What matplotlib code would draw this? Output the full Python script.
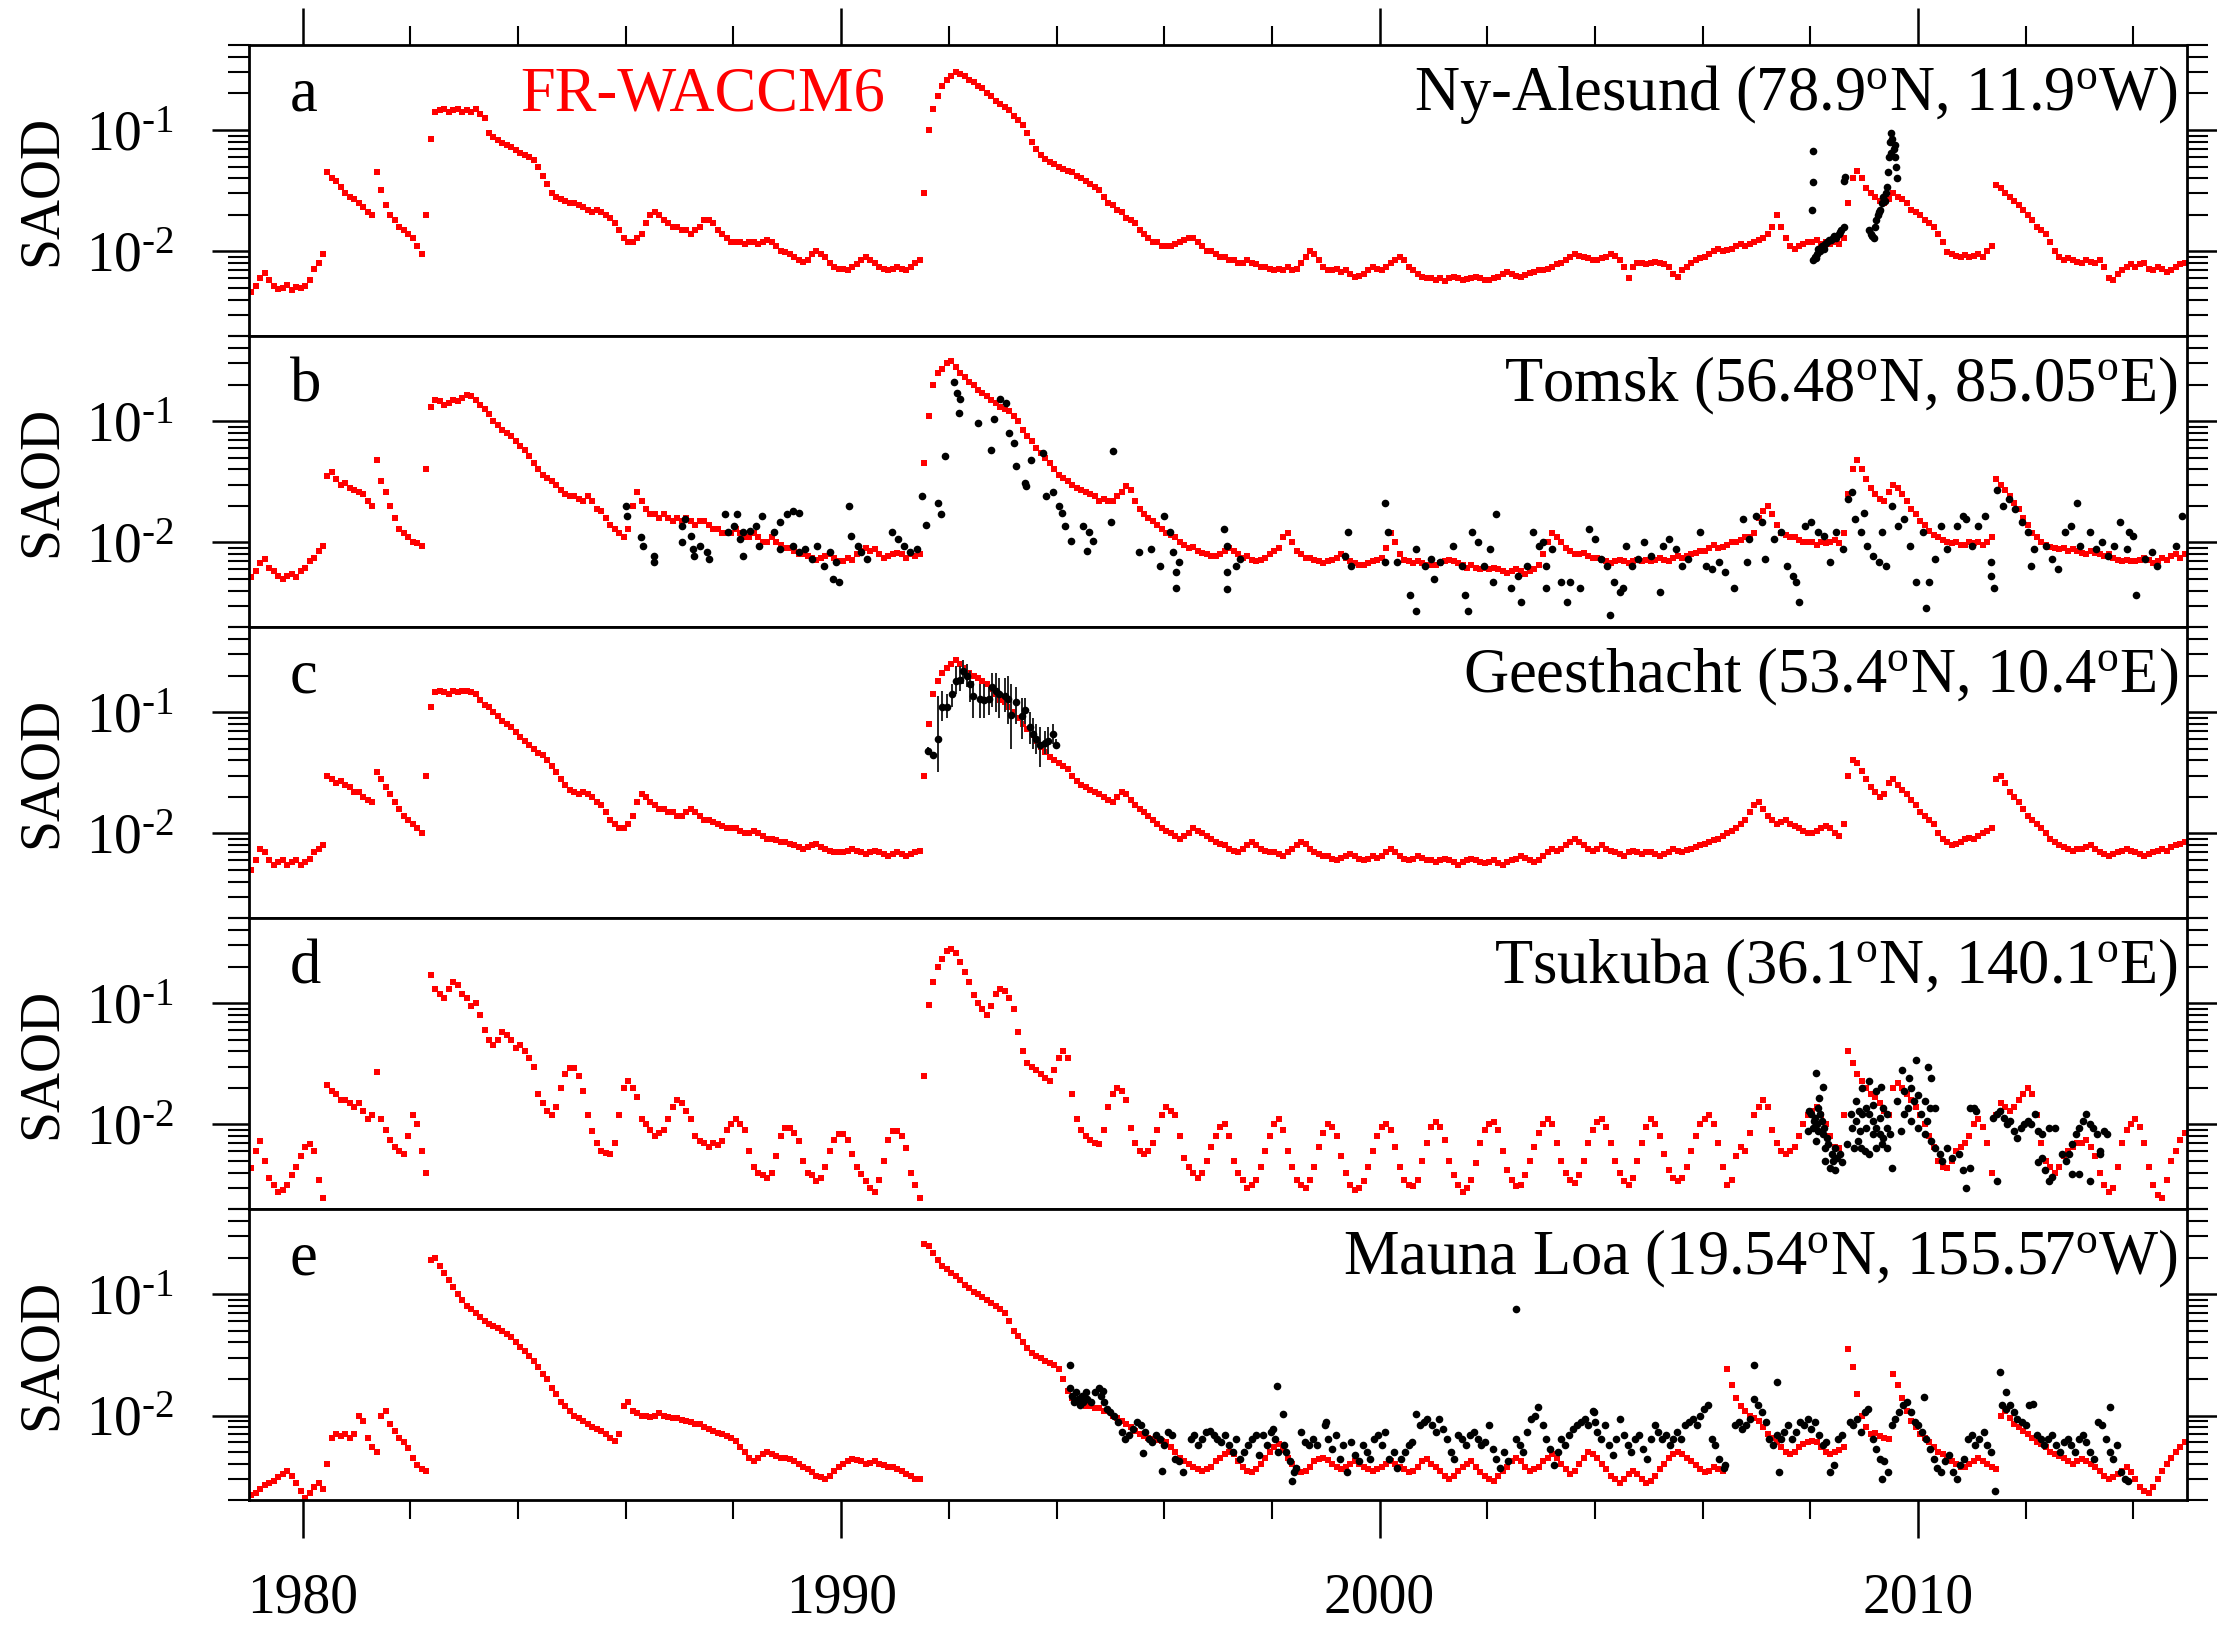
import numpy as np
import matplotlib
matplotlib.use("Agg")
import matplotlib.pyplot as plt
from matplotlib.ticker import FixedLocator, FixedFormatter, LogLocator, NullFormatter, MultipleLocator

plt.rcParams['font.family'] = ['Liberation Serif', 'DejaVu Serif']
plt.rcParams['mathtext.fontset'] = 'custom'
plt.rcParams['mathtext.rm'] = 'Liberation Serif'
plt.rcParams['mathtext.it'] = 'Liberation Serif:italic'
plt.rcParams['mathtext.bf'] = 'Liberation Serif:bold'

# ---------------- data ----------------
START_YEAR = 1979          # model series: monthly values from Jan 1979 to Dec 2014
SCALE = 1e-3               # all SAOD values below are in units of 1e-3

model_a = [
    4.6, 5.2, 6.0, 6.6, 5.8, 5.2, 4.9, 5.0, 5.3, 4.8, 5.1, 5.0,
    5.2, 5.8, 7.2, 8.0, 9.5, 45, 40, 38, 34, 30, 28, 27,
    25, 23, 21, 20, 45, 32, 24, 20, 18, 16, 15, 14,
    13, 11, 9.5, 20, 85, 140, 145, 150, 140, 145, 150, 140,
    145, 140, 150, 135, 125, 95, 88, 82, 78, 75, 72, 68,
    65, 62, 60, 57, 50, 42, 36, 30, 28, 27, 26, 25,
    25, 24, 23, 22, 21, 22, 21, 20, 19, 17, 15, 13,
    12, 12, 13, 14, 17, 20, 21, 20, 18, 17, 16, 16,
    15, 15, 14, 15, 16, 18, 18, 17, 15, 14, 13, 12,
    12, 12, 11.5, 12, 12, 11.5, 12, 12.5, 12, 11, 10, 9.8,
    9.5, 9, 8.5, 8.2, 8.5, 9.5, 10, 9.5, 9, 8, 7.5, 7.2,
    7.2, 7, 7.5, 7.8, 8.5, 9, 8.5, 8, 7.5, 7.2, 7, 7.2,
    7.5, 7.2, 7, 7.5, 8, 8.5, 30, 100, 150, 190, 230, 260,
    280, 300, 290, 280, 260, 250, 230, 220, 200, 190, 175, 165,
    155, 145, 130, 120, 110, 95, 80, 70, 62, 58, 55, 52,
    50, 48, 46, 45, 42, 40, 38, 36, 34, 32, 28, 25,
    24, 22, 21, 19, 18, 17, 15, 14, 13, 12, 12, 11,
    11, 11, 11.5, 12, 12.5, 13, 13, 12, 11, 10, 10, 9.5,
    9, 9, 8.5, 8.5, 8, 8, 8.5, 8, 7.8, 7.5, 7.5, 7.2,
    7, 7.2, 7, 7.5, 7, 7.2, 8, 9, 10, 9.5, 8.5, 7.5,
    7, 7, 7.2, 6.8, 7, 6.5, 6.2, 6.3, 6.5, 7, 7.5, 7.2,
    7, 7.5, 8, 8.5, 9, 8.5, 7.5, 7, 6.5, 6.2, 6, 6,
    5.8, 6, 5.7, 6, 6.2, 6, 5.8, 5.9, 6, 6.2, 6, 5.8,
    5.8, 6, 6.2, 6.5, 6.8, 6.5, 6.3, 6.2, 6.4, 6.6, 6.8, 7,
    7, 7.2, 7.5, 7.8, 8, 8.5, 9, 9.5, 9.2, 9, 8.8, 8.5,
    8.5, 8.8, 9, 9.5, 9.2, 8.5, 7.5, 6, 7.5, 8, 8, 7.8,
    8, 8.2, 8, 7.8, 7.5, 6.5, 6.2, 7, 7.5, 8, 8.5, 8.8,
    9, 9.5, 10, 10.5, 10, 10.2, 10.5, 11, 11.5, 11, 11.5, 12,
    12.5, 13, 14, 16, 20, 16, 13, 11, 10.5, 11, 11.5, 12,
    12, 12.5, 11.5, 12, 11.5, 12, 11.5, 13, 25, 40, 46, 40,
    33, 30, 28, 26, 25, 27, 30, 28, 27, 25, 22, 21,
    20, 18, 17, 16, 14, 12, 9.8, 9.5, 9.2, 9, 9.3, 9,
    9.2, 9.5, 9, 10, 11, 35, 33, 30, 28, 26, 24, 22,
    20, 18, 16, 15, 14, 12, 10, 9, 8.5, 8.8, 8.5, 8.2,
    8, 8.5, 8.2, 8, 8.5, 7.5, 6, 5.8, 6.5, 7, 7.5, 7.8,
    7.5, 7.8, 8, 7.2, 7, 7.5, 7.2, 6.8, 7, 7.5, 7.8, 8,
]

model_b = [
    5.2, 5.8, 6.8, 7.3, 6.2, 5.8, 5.3, 5.0, 5.3, 5.5, 5.2, 5.8,
    6.2, 7.0, 7.5, 8.5, 9.3, 35, 38, 33, 30, 31, 28, 27,
    26, 25, 22, 20, 48, 32, 26, 20, 16, 13, 12, 11,
    10, 9.8, 9.3, 40, 130, 150, 145, 135, 140, 150, 145, 155,
    165, 160, 150, 135, 125, 115, 100, 92, 85, 80, 75, 68,
    62, 58, 52, 45, 40, 36, 34, 32, 30, 27, 25, 24,
    24, 23, 22, 24, 22, 19, 18, 16, 14, 13, 12, 11,
    13, 20, 26, 22, 19, 17, 17, 16, 17, 16, 15, 16,
    15, 16, 15, 14, 15, 15, 14, 13, 13, 12, 12, 12,
    13, 12, 11, 11, 12, 11, 10, 10, 11, 10, 9.5, 9,
    9, 8.5, 8, 8, 7.8, 7.5, 7.2, 7.5, 7.8, 8, 7.5, 7,
    7, 7.5, 7.2, 8, 8.5, 9, 8.5, 8.8, 8, 7.5, 7.8, 8,
    8.2, 8, 7.5, 8, 7.8, 8, 45, 110, 200, 250, 270, 300,
    310, 280, 250, 230, 210, 200, 180, 170, 160, 150, 140, 130,
    125, 120, 110, 100, 85, 75, 68, 60, 55, 50, 45, 40,
    36, 34, 32, 30, 28, 27, 26, 25, 24, 22, 23, 22,
    22, 24, 26, 29, 27, 22, 19, 17, 16, 15, 14, 13,
    12, 11.5, 11, 10, 9.5, 9, 9.2, 8.5, 8.2, 8, 7.8, 7.8,
    8, 8.5, 9, 8.5, 8, 7.5, 7.8, 7.2, 7, 7.2, 7.5, 8,
    8.5, 9, 11, 12, 10, 8.5, 8, 7.5, 7.5, 7.2, 7, 6.8,
    7, 7.2, 7.5, 8, 7.5, 7, 6.8, 6.5, 6.5, 6.8, 7, 7.2,
    7.5, 9, 12, 10, 8, 7.2, 7, 6.8, 7, 6.8, 6.5, 6.5,
    6.5, 6.8, 7, 7.2, 7, 6.8, 6.5, 6.2, 6.5, 6.2, 6, 6.2,
    6, 6.2, 6, 5.8, 5.6, 5.8, 6, 5.8, 5.5, 5.8, 6, 6.5,
    8, 10, 12, 11, 10, 9, 8.5, 8, 8, 8.2, 7.8, 7.5,
    7.5, 7.2, 7, 6.8, 7, 7.2, 7, 6.8, 7, 7.2, 7, 7.2,
    7, 7.2, 7.5, 7.2, 7, 7.5, 7.8, 7.5, 7.8, 8, 8.2, 8.5,
    8.5, 9, 9.5, 9, 9.2, 9.5, 10, 10, 10.5, 11, 11, 12,
    16, 18, 20, 17, 14, 12, 11.5, 11, 11, 10.5, 10, 10,
    10, 9.5, 10, 9.8, 10, 10.5, 9.8, 12, 25, 40, 48, 40,
    33, 28, 25, 23, 22, 26, 30, 28, 25, 22, 19, 17,
    15, 14, 12.5, 11.5, 11, 10.5, 10, 9.8, 10, 9.5, 9.5, 10,
    9.8, 10, 9.5, 10, 11, 33, 30, 27, 24, 21, 19, 16,
    14, 12, 11, 10, 9.5, 9.2, 9, 8.8, 9, 8.5, 8.8, 8.5,
    8.2, 8, 8.5, 8.2, 8, 7.8, 8, 7.5, 7.2, 7, 7.2, 7,
    7, 7.2, 7.5, 7.2, 6.8, 7, 7.5, 7.2, 7.8, 8, 7.5, 8,
]

model_c = [
    5, 6, 7.5, 7, 6, 5.5, 5.8, 6, 5.5, 5.8, 6, 5.5,
    5.8, 6.2, 7, 7.5, 8, 30, 28, 26, 27, 25, 24, 22,
    22, 20, 19, 18, 32, 28, 24, 21, 18, 16, 14, 13,
    12, 11, 10, 30, 110, 145, 150, 145, 140, 150, 145, 150,
    150, 145, 140, 125, 115, 110, 100, 92, 85, 80, 75, 68,
    62, 58, 54, 50, 46, 44, 40, 36, 32, 28, 25, 23,
    22, 21, 22, 21, 20, 18, 17, 15, 13, 12, 11, 11,
    12, 14, 18, 21, 20, 18, 17, 16, 16, 15, 15, 14,
    14, 15, 16, 15, 14, 13, 13, 12.5, 12, 11.5, 11, 11,
    11, 10.5, 10, 10, 10.5, 10, 9.5, 9, 9, 8.8, 8.5, 8.5,
    8.2, 8, 7.8, 7.5, 7.8, 8, 8.2, 7.8, 7.5, 7.2, 7, 7,
    7, 7.2, 7.5, 7.2, 7, 6.8, 7, 7.2, 7, 6.8, 6.5, 6.8,
    7, 6.8, 6.5, 6.8, 7, 7.2, 30, 80, 140, 180, 210, 230,
    250, 270, 250, 230, 210, 200, 190, 180, 170, 155, 140, 125,
    120, 110, 100, 90, 80, 72, 65, 58, 52, 47, 43, 40,
    38, 36, 34, 30, 27, 25, 24, 23, 22, 21, 20, 19,
    18, 20, 22, 21, 19, 17, 16, 15, 14, 13, 12, 11,
    10.5, 10, 9.5, 9, 9.5, 10, 11, 10.5, 10, 9.5, 9, 8.5,
    8.2, 8, 7.5, 7.2, 7, 7.5, 8, 8.5, 8, 7.5, 7.2, 7,
    7, 6.8, 6.5, 7, 7.5, 8, 8.5, 8.2, 7.5, 7, 6.8, 6.5,
    6.5, 6.2, 6, 6.3, 6.5, 6.8, 6.5, 6.2, 6, 6.2, 6.5, 6.3,
    6.5, 7, 7.5, 7, 6.5, 6.2, 6, 6.2, 6.5, 6.3, 6, 6,
    5.8, 6, 6.2, 6, 5.8, 5.5, 5.8, 6, 6.2, 6, 5.8, 5.7,
    5.8, 6, 5.7, 5.5, 5.8, 6, 6.2, 6.5, 6.3, 6, 5.8, 6,
    6.5, 7, 7.5, 7.2, 7.5, 8, 8.5, 9, 8.5, 8, 7.5, 7.2,
    7.5, 8, 7.5, 7.2, 7, 6.8, 6.5, 7, 7.2, 7, 6.8, 7,
    7, 6.8, 6.5, 6.8, 7, 7.5, 7.2, 7, 7.3, 7.5, 7.8, 8,
    8.2, 8.5, 8.8, 9, 9.5, 10, 10.5, 11, 12, 13, 15, 17,
    18, 16, 14, 13, 12, 12.5, 13, 12, 11.5, 11, 10.5, 10,
    10, 10.5, 11, 11.5, 11, 10, 9.5, 12, 30, 40, 38, 33,
    28, 24, 22, 20, 21, 26, 28, 25, 23, 21, 19, 17,
    15, 14, 13, 12, 10, 9, 8.5, 8, 8.2, 8.5, 9, 9.2,
    9, 9.5, 10, 10.5, 11, 28, 30, 26, 22, 20, 18, 16,
    14, 13, 12, 11, 10, 9, 8.5, 8, 7.8, 7.5, 7.2, 7.5,
    7.5, 7.8, 8, 7.5, 7, 6.8, 6.5, 6.8, 7, 7.2, 7.5, 7.2,
    7, 6.8, 6.5, 6.8, 7, 7.2, 7.5, 7.2, 7.8, 8, 8.2, 8.5,
]

model_d = [
    4.4, 6, 7.3, 5, 3.6, 3.2, 2.8, 2.9, 3.2, 3.8, 4.5, 5.5,
    6.5, 6.9, 6, 3.5, 2.5, 21, 19, 18, 16, 16, 15, 14,
    15, 13, 11, 12, 27, 11, 9, 7.5, 6.5, 6, 5.7, 8,
    12, 10, 6, 4, 170, 130, 120, 110, 130, 150, 140, 120,
    110, 95, 100, 80, 60, 50, 45, 50, 58, 55, 50, 43,
    45, 40, 35, 30, 18, 15, 13, 12, 14, 20, 26, 29,
    29, 25, 19, 12, 8.8, 7, 6, 5.8, 5.7, 7, 12, 20,
    23, 20, 17, 11, 10, 9, 8, 8.5, 9, 11, 14, 16,
    15, 13, 11, 8, 7.3, 7, 6.5, 7, 6.8, 7.3, 9, 10,
    11, 10, 9, 6, 4.5, 4, 3.8, 3.6, 4, 5.5, 8, 9.4,
    9.4, 8.5, 7.3, 5, 4, 3.8, 3.4, 3.6, 4.5, 6, 7.5, 8.3,
    8.3, 7.5, 5.7, 4.5, 3.9, 3.4, 3, 2.8, 3.5, 5, 7.5, 8.8,
    8.8, 8, 6.4, 4, 3.2, 2.5, 25, 97, 150, 200, 230, 270,
    280, 260, 220, 180, 150, 117, 100, 90, 80, 95, 120, 130,
    125, 110, 90, 58, 40, 32, 30, 28, 26, 24, 23, 28,
    35, 40, 35, 18, 11, 9, 8, 7.5, 7, 6.9, 9, 14,
    18, 20, 19, 16, 9.4, 7, 6, 5.7, 6, 7, 9, 12,
    14, 13, 12, 8, 5.3, 4.5, 4, 3.6, 4, 5, 6.5, 8,
    9.5, 10, 8, 5, 4, 3.5, 3, 3.2, 3.5, 4.5, 6, 8,
    10, 11, 9, 6, 4.5, 3.5, 3.2, 3, 3.5, 4.5, 6.5, 8.5,
    10, 9.5, 8, 5.5, 4, 3.2, 2.9, 3, 3.4, 4.5, 6, 8,
    9.5, 10, 9, 6.5, 4.5, 3.5, 3.2, 3.1, 3.5, 5, 7, 9.5,
    10.5, 9.5, 7.5, 5, 3.8, 3.2, 2.8, 3, 3.5, 4.8, 7, 9,
    10, 10.5, 9, 6, 4.2, 3.5, 3.1, 3.2, 3.8, 5, 6.5, 8.5,
    10, 11, 10, 7, 5, 4, 3.5, 3.3, 3.8, 5, 7, 9,
    10.5, 11, 9.5, 7, 5, 4, 3.4, 3.2, 3.6, 5, 7, 9.5,
    11, 10, 8, 5.7, 4.2, 3.6, 3.4, 3.6, 4.5, 6, 8, 10,
    11, 12, 10, 7, 4.5, 3.2, 3.5, 5.5, 6.5, 6, 8.5, 12,
    14, 16, 14, 9, 7, 6, 5.7, 6, 6.5, 8, 10, 12,
    13, 14, 12, 10, 8, 6.5, 6.4, 12, 40, 32, 26, 23,
    20, 18, 17, 15, 13, 12, 20, 22, 20, 18, 16, 14,
    12, 10, 8, 6.5, 5, 4.5, 4.4, 5, 6, 6.5, 7, 8,
    10, 11, 9.5, 7, 4, 12, 15, 14, 13, 14, 16, 18,
    20, 18, 12, 7, 5, 4.5, 4, 4.5, 5.5, 6, 6.5, 7,
    7, 7.5, 6.5, 5.5, 4, 3.2, 2.8, 3, 4.5, 7, 9, 10,
    11, 9.5, 7, 4.5, 3.2, 2.6, 2.5, 3.5, 5, 6, 7.5, 8.5,
]

model_e = [
    2.2, 2.3, 2.5, 2.7, 2.8, 2.9, 3.1, 3.3, 3.5, 3.2, 2.8, 2.4,
    2.1, 2.3, 2.6, 2.8, 2.5, 4, 6.5, 7, 6.8, 7, 6.5, 7,
    10, 9, 6.5, 5.5, 5, 10, 11, 8.5, 7.5, 6.5, 6, 5.4,
    4.5, 3.9, 3.6, 3.5, 190, 200, 170, 150, 130, 115, 100, 90,
    80, 75, 70, 65, 60, 57, 55, 53, 50, 47, 44, 40,
    37, 34, 31, 28, 25, 22, 20, 17, 15, 13, 12, 11,
    10, 9.5, 9, 8.5, 8, 7.8, 7.5, 7, 6.5, 6.2, 7, 12,
    13, 11, 10.5, 10, 10, 9.8, 10, 10.5, 10, 9.8, 9.5, 9.5,
    9.2, 9, 8.8, 8.5, 8.5, 8, 7.8, 7.5, 7.2, 7, 6.8, 6.5,
    6.2, 5.5, 5, 4.5, 4.2, 4.5, 4.8, 5, 4.8, 4.6, 4.5, 4.5,
    4.4, 4.2, 4, 3.8, 3.6, 3.4, 3.2, 3.1, 3, 3.2, 3.5, 3.8,
    4, 4.2, 4.4, 4.3, 4.2, 4, 4.1, 4.2, 4, 3.9, 3.8, 3.8,
    3.6, 3.5, 3.3, 3.2, 3, 3, 260, 250, 220, 190, 170, 160,
    150, 140, 130, 120, 112, 105, 100, 95, 90, 85, 80, 75,
    70, 60, 50, 45, 40, 36, 33, 31, 30, 28, 27, 26,
    24, 20, 16, 14, 13, 12.5, 12, 12, 11.5, 11.5, 11, 11,
    10, 9.5, 9, 8.5, 8, 7.5, 7, 6.8, 6.5, 6.4, 6.3, 6.2,
    6, 5.5, 5, 4.5, 4.2, 4, 3.8, 3.6, 3.5, 3.6, 3.8, 4.2,
    4.5, 4.8, 5, 4.8, 4.2, 3.8, 3.5, 3.4, 3.6, 4, 4.5, 5,
    5.5, 5.8, 5.2, 4.5, 4, 3.6, 3.4, 3.5, 3.8, 4.2, 4.4, 4.5,
    4.3, 4, 3.8, 3.6, 3.8, 4, 4.2, 4, 3.8, 3.6, 3.5, 3.6,
    3.8, 4, 4.2, 4, 3.8, 3.6, 3.4, 3.5, 3.8, 4.2, 4.4, 4,
    3.8, 3.5, 3.2, 3, 3.2, 3.5, 3.8, 4, 4.2, 3.8, 3.4, 3.2,
    3, 2.9, 3.2, 3.5, 3.8, 4.2, 4.5, 4.2, 3.8, 3.5, 3.6, 3.8,
    4.2, 4.5, 4.8, 4.5, 4, 3.6, 3.3, 3.5, 4, 4.5, 5, 4.8,
    4.5, 4, 3.6, 3.2, 3, 2.8, 3, 3.3, 3.5, 3.3, 3, 2.8,
    2.9, 3.2, 3.6, 4, 4.5, 4.8, 5, 4.8, 4.5, 4.2, 3.9, 3.6,
    3.4, 3.5, 3.8, 3.6, 3.5, 24, 18, 14, 12, 11, 10, 9.5,
    9, 8, 7, 6.5, 6, 5.5, 5, 4.8, 5, 5.5, 5.8, 6,
    6.2, 6, 5.5, 5, 4.8, 5, 5.2, 5.5, 35, 25, 15, 10,
    8, 7, 7.2, 6.8, 6.5, 6.4, 22, 18, 14, 11, 9, 8,
    7, 6.5, 6, 5.5, 5, 4.8, 4.5, 4.2, 4, 3.8, 3.8, 4,
    4.2, 4.5, 4.2, 4, 3.8, 3.6, 10, 11, 9.5, 8.5, 8, 7.5,
    7, 6.5, 6, 5.8, 5.5, 5, 4.8, 4.6, 4.5, 4.2, 4, 4.2,
    4.4, 4.2, 4, 3.8, 3.5, 3.2, 3, 3.1, 3.3, 3.5, 3.8, 3.4,
    3, 2.6, 2.4, 2.3, 2.6, 3, 3.5, 4, 4.5, 5, 5.5, 6,
]

# observations (year, SAOD in 1e-3)
obs_a = [
    (2008.05, 67), (2008.05, 37), (2008.04, 22), (2008.05, 8.5), (2008.08, 9),
    (2008.10, 8.8), (2008.12, 9.5), (2008.15, 10.5), (2008.18, 10), (2008.22, 11),
    (2008.25, 10.5), (2008.27, 11.5), (2008.32, 12), (2008.35, 12.5), (2008.38, 12.5),
    (2008.43, 13), (2008.45, 13.5), (2008.48, 13), (2008.53, 14), (2008.55, 14.5),
    (2008.58, 15), (2008.62, 16), (2008.62, 38), (2008.64, 41),
    (2009.10, 15), (2009.13, 14), (2009.15, 13.5), (2009.18, 13), (2009.20, 16),
    (2009.22, 18), (2009.25, 20), (2009.28, 21), (2009.30, 22), (2009.33, 25),
    (2009.36, 28), (2009.38, 26), (2009.40, 30), (2009.42, 34), (2009.45, 45),
    (2009.47, 60), (2009.48, 80), (2009.50, 95), (2009.52, 85), (2009.55, 70),
    (2009.57, 60), (2009.60, 50), (2009.62, 40), (2009.58, 75), (2009.50, 65),
]

obs_b = [
    (1986.00, 20), (1986.03, 16.5), (1986.29, 11), (1986.32, 9.4), (1986.52, 7.8),
    (1986.52, 6.9), (1987.04, 13.7), (1987.04, 10), (1987.09, 15.5), (1987.21, 11.3),
    (1987.24, 8.8), (1987.27, 7.8), (1987.38, 9.4), (1987.50, 8.3), (1987.55, 7.3),
    (1987.84, 17), (1987.90, 12.1), (1988.01, 13.7), (1988.07, 17), (1988.13, 10.6),
    (1988.18, 12.1), (1988.18, 7.8), (1988.30, 12.5), (1988.41, 13.7), (1988.47, 9.4),
    (1988.53, 16.5), (1988.76, 12.1), (1988.87, 14.6), (1988.87, 8.8), (1988.99, 17),
    (1989.10, 18), (1989.10, 9.4), (1989.22, 17.6), (1989.22, 8.3), (1989.33, 8.8),
    (1989.45, 7.3), (1989.56, 9.4), (1989.68, 6.4), (1989.79, 8.3), (1989.85, 5.0),
    (1989.91, 6.9), (1989.96, 4.7), (1990.14, 20), (1990.19, 11.3), (1990.31, 9.4),
    (1990.37, 8.3), (1990.48, 7.3), (1990.94, 12.1), (1991.06, 10.6), (1991.17, 9.4),
    (1991.28, 8.3), (1991.40, 8.8), (1991.51, 24), (1991.57, 14), (1991.80, 21),
    (1991.86, 17), (1991.92, 52), (1992.09, 209), (1992.15, 171), (1992.20, 151),
    (1992.18, 117), (1992.55, 97), (1992.78, 58), (1992.83, 103), (1992.95, 151),
    (1993.06, 142), (1993.12, 80), (1993.21, 66), (1993.24, 43), (1993.41, 31),
    (1993.44, 29), (1993.52, 48), (1993.75, 55), (1993.81, 24), (1993.93, 26),
    (1994.04, 20), (1994.10, 17.6), (1994.16, 13.7), (1994.27, 10.3), (1994.50, 13.7),
    (1994.56, 8.5), (1994.61, 12.1), (1994.67, 10.3), (1995.02, 14.6), (1995.05, 57),
    (1995.53, 8.3), (1995.76, 8.8), (1995.93, 6.4), (1995.99, 16.5), (1996.11, 12.1),
    (1996.16, 8.3), (1996.22, 5.7), (1996.22, 4.2), (1996.28, 6.9),
    (1997.11, 12.9), (1997.17, 9.4), (1997.17, 5.7), (1997.17, 4.1), (1997.34, 6.4),
    (1997.40, 7.3), (1999.35, 7.8), (1999.41, 12.1), (1999.47, 6.4), (2000.10, 21),
    (2000.16, 12.1), (2000.10, 6.9), (2000.33, 6.9), (2000.56, 3.7), (2000.67, 2.7),
    (2000.67, 8.8), (2000.85, 6.4), (2000.96, 7.3), (2001.02, 5.0), (2001.13, 6.9),
    (2001.36, 9.4), (2001.53, 6.4), (2001.59, 3.7), (2001.65, 2.7), (2001.71, 12.1),
    (2001.82, 10), (2001.94, 6.4), (2002.05, 8.8), (2002.11, 4.7), (2002.17, 17),
    (2002.45, 4.2), (2002.57, 5.3), (2002.63, 3.2), (2002.74, 6.4), (2002.86, 12.1),
    (2002.97, 9.4), (2003.03, 10), (2003.09, 6.4), (2003.09, 4.2), (2003.20, 8.8),
    (2003.37, 4.7), (2003.49, 3.2), (2003.54, 4.7), (2003.72, 4.2), (2003.89, 12.9),
    (2004.00, 10.6), (2004.12, 7.3), (2004.23, 6.4), (2004.29, 2.5), (2004.35, 4.7),
    (2004.46, 3.9), (2004.52, 4.2), (2004.58, 9.4), (2004.69, 6.4), (2004.81, 7.3),
    (2004.92, 10), (2005.04, 7.8), (2005.21, 3.9), (2005.27, 9.4), (2005.38, 10.6),
    (2005.50, 8.8), (2005.61, 6.4), (2005.73, 7.3), (2005.96, 12.1), (2006.07, 6.4),
    (2006.18, 6.0), (2006.30, 6.9), (2006.41, 5.7), (2006.59, 4.2), (2006.76, 15.5),
    (2006.82, 6.9), (2006.87, 10.6), (2006.99, 16.5), (2007.10, 14.6), (2007.16, 7.3),
    (2007.33, 10.6), (2007.45, 12.1), (2007.56, 6.4), (2007.68, 5.3), (2007.73, 4.7),
    (2007.79, 3.2), (2007.91, 13.7), (2008.02, 14.6), (2008.14, 12.1), (2008.25, 11.3),
    (2008.37, 6.9), (2008.48, 12.1), (2008.60, 8.8), (2008.71, 23), (2008.77, 26),
    (2008.83, 15.5), (2008.94, 12.1), (2009.00, 17.6), (2009.06, 9.4), (2009.17, 7.8),
    (2009.28, 6.9), (2009.34, 12.1), (2009.40, 6.4), (2009.51, 20), (2009.63, 13.7),
    (2009.74, 15.5), (2009.86, 9.4), (2009.97, 4.7), (2010.09, 12.1), (2010.20, 4.7),
    (2010.15, 2.9), (2010.32, 7.3), (2010.43, 13.7), (2010.55, 8.8), (2010.72, 13.7),
    (2010.83, 16.5), (2010.89, 15.5), (2011.01, 9.4), (2011.12, 13.7), (2011.24, 16.5),
    (2011.35, 5.3), (2011.41, 4.2), (2011.35, 6.9), (2011.47, 27), (2011.58, 20),
    (2011.70, 23), (2011.81, 19), (2011.93, 14.6), (2012.04, 12.1), (2012.10, 6.4),
    (2012.16, 8.8), (2012.38, 9.4), (2012.50, 7.3), (2012.61, 6.0), (2012.73, 12.1),
    (2012.84, 13.7), (2012.96, 21), (2013.02, 9.4), (2013.19, 12.1), (2013.30, 8.8),
    (2013.42, 10), (2013.53, 7.8), (2013.65, 9.4), (2013.76, 14.6), (2013.88, 8.8),
    (2013.93, 12.1), (2013.99, 11.3), (2014.05, 3.7), (2014.22, 7.3), (2014.34, 8.3),
    (2014.45, 6.4), (2014.80, 9.4), (2014.91, 16.5),
]

# (year, SAOD, lower bound, upper bound) in 1e-3
obs_c = [
    (1991.61, 48, 45, 52), (1991.70, 44, 41, 47), (1991.80, 60, 32, 135),
    (1991.87, 110, 85, 150), (1991.96, 110, 90, 140), (1992.05, 140, 110, 170),
    (1992.14, 180, 140, 240), (1992.20, 185, 150, 240), (1992.26, 220, 170, 270),
    (1992.33, 200, 160, 250), (1992.39, 170, 120, 220), (1992.45, 135, 90, 180),
    (1992.57, 127, 90, 170), (1992.66, 125, 90, 170), (1992.75, 127, 95, 160),
    (1992.81, 160, 110, 210), (1992.87, 150, 100, 210), (1992.94, 140, 90, 190),
    (1993.04, 135, 100, 190), (1993.10, 127, 80, 200), (1993.16, 95, 50, 170),
    (1993.25, 120, 80, 160), (1993.35, 93, 60, 130), (1993.41, 105, 80, 130),
    (1993.50, 75, 55, 100), (1993.56, 66, 50, 90), (1993.62, 60, 45, 80),
    (1993.69, 54, 35, 75), (1993.78, 56, 45, 70), (1993.84, 58, 45, 75),
    (1993.93, 66, 55, 80), (1993.99, 54, 50, 60),
]

obs_d = [
    (2008.11, 26.5), (2008.24, 20.5), (2008.17, 16.5), (2008.14, 13.7), (2008.02, 12.1),
    (2008.08, 11.3), (2008.21, 10.6), (2008.05, 9.4), (2008.14, 8.8), (2008.24, 8.3),
    (2007.95, 8.8), (2008.11, 7.3), (2008.27, 6.4), (2008.33, 6.9), (2008.40, 5.7),
    (2008.46, 6.4), (2008.49, 5.3), (2008.43, 5.0), (2008.27, 5.0), (2008.37, 4.4),
    (2008.46, 4.2), (2008.56, 5.7), (2008.59, 4.9), (2008.69, 6.9), (2007.98, 12.9),
    (2008.07, 10.6), (2008.13, 10), (2008.19, 12.1), (2008.26, 9.4), (2008.32, 7.8),
    (2008.85, 15.5), (2008.91, 12.9), (2008.97, 12.1), (2009.04, 13.7), (2009.10, 12.1),
    (2009.17, 10.6), (2009.23, 9.4), (2009.29, 11.3), (2009.36, 13.7), (2009.42, 9.4),
    (2009.49, 8.3), (2008.78, 9.4), (2008.88, 7.3), (2008.94, 6.4), (2009.01, 6.0),
    (2009.10, 5.7), (2009.23, 6.4), (2009.33, 6.9), (2009.42, 6.4), (2009.52, 4.4),
    (2008.85, 10.6), (2009.04, 9.4), (2009.17, 8.3), (2008.97, 20), (2009.10, 23),
    (2009.23, 19), (2009.31, 20.5), (2008.75, 12.1), (2008.81, 6.4), (2008.92, 8.8),
    (2009.17, 14.6), (2009.29, 8.3), (2009.36, 7.8), (2009.42, 12.1),
    (2009.97, 34), (2010.19, 30), (2009.71, 28), (2009.84, 24), (2010.25, 24),
    (2009.74, 19), (2009.87, 20), (2010.00, 17.6), (2010.13, 15.5), (2009.61, 15.5),
    (2009.81, 13.7), (2009.93, 15.5), (2010.06, 12.1), (2010.16, 10.6), (2010.22, 13.7),
    (2010.32, 13.7), (2009.87, 10.6), (2010.00, 9.4), (2010.13, 8.3), (2010.25, 7.3),
    (2010.32, 6.4), (2010.41, 5.7), (2010.44, 5.0), (2009.74, 12.1), (2009.68, 8.8),
    (2010.54, 6.4), (2010.64, 5.3), (2010.76, 5.7), (2010.83, 4.2), (2010.96, 4.4),
    (2010.89, 3.0), (2010.96, 13.7), (2011.05, 13.7), (2011.08, 12.9),
    (2011.40, 11.3), (2011.47, 12.1), (2011.53, 12.9), (2011.60, 11.3), (2011.66, 10),
    (2011.72, 10.6), (2011.79, 8.8), (2011.85, 7.8), (2011.92, 9.4), (2011.98, 10),
    (2012.04, 10.6), (2012.11, 10), (2012.17, 12.1), (2012.24, 8.8), (2012.30, 8.3),
    (2012.43, 9.4), (2012.55, 9.4), (2011.47, 3.4), (2012.24, 4.9), (2012.30, 5.3),
    (2012.36, 4.2), (2012.43, 3.4), (2012.49, 3.7), (2012.68, 5.7), (2012.75, 5.0),
    (2012.81, 5.7), (2012.87, 6.9), (2012.94, 8.3), (2013.00, 9.4), (2013.07, 10.6),
    (2013.13, 12.1), (2013.19, 10), (2013.26, 9.4), (2013.32, 8.3), (2013.39, 6.0),
    (2013.45, 8.8), (2013.51, 8.3), (2013.00, 3.9), (2013.19, 3.4), (2012.87, 3.9),
    (2013.39, 5.7),
]

obs_e = [
    (1994.25, 26), (1994.25, 17), (1994.29, 14.6), (1994.32, 12.9), (1994.36, 15.5),
    (1994.40, 13.7), (1994.43, 12.1), (1994.47, 14.6), (1994.50, 12.9), (1994.54, 15.5),
    (1994.57, 13.7), (1994.64, 12.9), (1994.72, 15.5), (1994.79, 17), (1994.82, 14.6),
    (1994.86, 16), (1994.89, 12.9), (1994.93, 11.3), (1995.00, 10.6), (1995.07, 10),
    (1995.14, 8.8), (1995.21, 7.3), (1995.28, 6.4), (1995.35, 6.9), (1995.43, 7.8),
    (1995.50, 8.8), (1995.57, 8.3), (1995.64, 7.3), (1995.71, 6.4), (1995.78, 6.0),
    (1995.60, 4.9), (1995.85, 6.9), (1995.92, 6.4), (1995.99, 5.7), (1996.07, 7.3),
    (1996.14, 6.9), (1996.21, 4.4), (1996.28, 4.2), (1996.35, 3.4), (1995.96, 3.5),
    (1996.49, 6.4), (1996.56, 6.9), (1996.63, 5.7), (1996.70, 6.4), (1996.78, 7.3),
    (1996.85, 7.5), (1996.92, 6.9), (1996.99, 6.4), (1997.06, 6.0), (1997.13, 6.9),
    (1997.20, 5.7), (1997.27, 5.0), (1997.34, 6.4), (1997.41, 4.4), (1997.49, 5.0),
    (1997.56, 5.7), (1997.63, 6.4), (1997.70, 6.9), (1997.77, 4.7), (1997.84, 6.9),
    (1997.91, 5.7), (1997.98, 7.3), (1998.02, 7.8), (1998.05, 6.4), (1998.09, 17.6),
    (1998.20, 10.3), (1998.12, 5.0), (1998.23, 5.7), (1998.27, 5.0), (1998.34, 4.2),
    (1998.41, 3.4), (1998.37, 2.9), (1998.44, 3.7), (1998.55, 7.3), (1998.62, 6.0),
    (1998.69, 5.7), (1998.76, 6.4), (1998.83, 5.7), (1998.98, 8.3), (1999.01, 8.8),
    (1999.05, 6.4), (1999.12, 5.3), (1999.19, 6.9), (1999.26, 4.4), (1999.33, 5.7),
    (1999.40, 3.4), (1999.47, 6.0), (1999.54, 4.7), (1999.62, 4.2), (1999.69, 5.7),
    (1999.76, 5.0), (1999.83, 4.4), (1999.90, 6.4), (1999.97, 6.9), (2000.04, 5.7),
    (2000.11, 7.3), (2000.18, 4.4), (2000.26, 5.0), (2000.33, 3.7), (2000.40, 4.4),
    (2000.47, 5.0), (2000.54, 5.7), (2000.61, 6.0), (2000.68, 10.3), (2000.75, 8.3),
    (2000.82, 8.8), (2000.89, 9.4), (2000.97, 8.3), (2001.04, 7.3), (2001.11, 9.4),
    (2001.18, 7.8), (2001.25, 6.4), (2001.32, 5.0), (2001.39, 4.4), (2001.46, 6.9),
    (2001.53, 6.4), (2001.60, 5.7), (2001.68, 6.9), (2001.75, 7.3), (2001.82, 6.4),
    (2001.89, 5.7), (2001.96, 6.0), (2002.03, 8.3), (2002.10, 5.3), (2002.17, 4.4),
    (2002.24, 3.7), (2002.31, 5.0), (2002.39, 4.2), (2002.53, 75), (2002.53, 6.4),
    (2002.60, 5.7), (2002.67, 5.0), (2002.74, 7.3), (2002.81, 9.4), (2002.88, 10),
    (2002.95, 11.7), (2003.03, 8.3), (2003.10, 6.4), (2003.17, 5.3), (2003.24, 3.9),
    (2003.31, 5.0), (2003.38, 6.4), (2003.45, 5.7), (2003.52, 6.9), (2003.59, 7.8),
    (2003.66, 8.3), (2003.74, 8.8), (2003.81, 9.4), (2003.88, 8.3), (2003.98, 10.6),
    (2003.97, 11), (2004.01, 8.8), (2004.04, 7.3), (2004.11, 6.4), (2004.18, 8.3),
    (2004.26, 5.7), (2004.33, 4.7), (2004.40, 6.4), (2004.47, 9.4), (2004.54, 6.9),
    (2004.61, 5.7), (2004.68, 5.0), (2004.75, 6.4), (2004.82, 6.9), (2004.89, 5.3),
    (2004.97, 4.4), (2005.04, 6.4), (2005.11, 8.3), (2005.18, 7.3), (2005.25, 6.4),
    (2005.32, 6.9), (2005.39, 5.7), (2005.46, 6.4), (2005.53, 7.3), (2005.60, 6.4),
    (2005.68, 8.3), (2005.75, 8.8), (2005.82, 9.4), (2005.89, 8.3), (2005.96, 10),
    (2006.03, 11.3), (2006.10, 12.1), (2006.17, 6.4), (2006.24, 5.7), (2006.31, 4.4),
    (2006.39, 3.7), (2006.42, 3.9), (2006.60, 8.3), (2006.67, 8.8), (2006.74, 7.8),
    (2006.81, 8.3), (2006.88, 9.4), (2006.95, 26), (2006.95, 13.7), (2007.03, 12.1),
    (2007.10, 10.6), (2007.17, 8.8), (2007.24, 6.4), (2007.31, 5.7), (2007.38, 6.9),
    (2007.38, 19), (2007.42, 3.4), (2007.45, 6.4), (2007.52, 7.3), (2007.59, 8.3),
    (2007.66, 6.4), (2007.74, 7.3), (2007.81, 8.8), (2007.88, 8.3), (2007.95, 9.4),
    (2008.02, 7.8), (2008.09, 8.8), (2008.16, 6.9), (2008.23, 5.7), (2008.30, 6.0),
    (2008.37, 3.4), (2008.45, 3.9), (2008.52, 6.4), (2008.59, 6.9), (2008.73, 8.8),
    (2008.80, 8.3), (2008.87, 9.4), (2008.94, 7.3), (2009.01, 10.6), (2009.08, 11.3),
    (2009.16, 6.4), (2009.23, 5.3), (2009.30, 4.4), (2009.37, 4.2), (2009.44, 3.4),
    (2009.33, 3.0), (2009.51, 8.3), (2009.58, 9.4), (2009.65, 10.6), (2009.72, 12.1),
    (2009.79, 12.9), (2009.87, 10.6), (2009.94, 8.8), (2010.01, 8.3), (2010.08, 7.3),
    (2010.11, 14.1), (2010.15, 6.4), (2010.22, 5.3), (2010.29, 4.4), (2010.36, 3.7),
    (2010.43, 3.4), (2010.51, 4.2), (2010.58, 4.7), (2010.65, 3.4), (2010.72, 3.0),
    (2010.79, 3.9), (2010.86, 4.4), (2010.93, 6.4), (2011.00, 6.9), (2011.07, 5.7),
    (2011.14, 6.4), (2011.22, 7.3), (2011.29, 5.7), (2011.36, 5.0), (2011.43, 2.4),
    (2011.53, 23), (2011.64, 15.5), (2011.57, 12.1), (2011.64, 11.3), (2011.71, 12.1),
    (2011.78, 10.6), (2011.85, 9.4), (2011.93, 8.8), (2012.00, 8.3), (2012.07, 12.1),
    (2012.14, 12.5), (2012.21, 6.9), (2012.28, 6.4), (2012.35, 5.7), (2012.42, 6.4),
    (2012.49, 6.9), (2012.56, 5.7), (2012.64, 5.0), (2012.71, 6.0), (2012.78, 6.4),
    (2012.85, 5.7), (2012.92, 5.0), (2012.99, 6.4), (2013.06, 6.9), (2013.13, 6.0),
    (2013.20, 5.0), (2013.27, 4.4), (2013.35, 8.8), (2013.42, 8.3), (2013.56, 11.7),
    (2013.49, 6.4), (2013.56, 5.0), (2013.63, 4.4), (2013.70, 5.7), (2013.77, 3.4),
    (2013.84, 3.0), (2013.91, 2.9),
]

letters = ['a', 'b', 'c', 'd', 'e']
titles = [
    r"Ny-Alesund (78.9$^{\rm o}$N, 11.9$^{\rm o}$W)",
    r"Tomsk (56.48$^{\rm o}$N, 85.05$^{\rm o}$E)",
    r"Geesthacht (53.4$^{\rm o}$N, 10.4$^{\rm o}$E)",
    r"Tsukuba (36.1$^{\rm o}$N, 140.1$^{\rm o}$E)",
    r"Mauna Loa (19.54$^{\rm o}$N, 155.57$^{\rm o}$W)",
]
models = [model_a, model_b, model_c, model_d, model_e]
obs = [obs_a, obs_b, obs_c, obs_d, obs_e]
ytick_vals = [0.01, 0.1]
ytick_labels = ["$10^{\u20102}$", "$10^{\u20101}$"]
xtick_years = [1980, 1990, 2000, 2010]
x_range = (1979, 2015)
y_range = (0.002, 0.5)

# ---------------- figure ----------------
W_PX, H_PX = 2217, 1625
fig = plt.figure(figsize=(W_PX / 100, H_PX / 100), dpi=100)
left, width = 0.1123, 0.8742
top, bottom = 0.9722, 0.0767
h = (top - bottom) / 5

FS = 40
TFS = 45
for i in range(5):
    y0 = top - (i + 1) * h
    ax = fig.add_axes([left, y0, width, h])
    ax.set_yscale('log')
    ax.set_xlim(*x_range)
    ax.set_ylim(*y_range)

    m = np.array(models[i], dtype=float) * SCALE
    xm = START_YEAR + (np.arange(len(m)) + 0.5) / 12.0
    ax.plot(xm, m, linestyle='none', marker='s', markersize=3.8,
            markeredgewidth=0, color='#ff0000', zorder=2)

    if i == 2:
        yr = np.array([o[0] for o in obs[i]])
        v = np.array([o[1] for o in obs[i]]) * SCALE
        lo = np.array([o[2] for o in obs[i]]) * SCALE
        hi = np.array([o[3] for o in obs[i]]) * SCALE
        ax.errorbar(yr, v, yerr=[v - lo, hi - v], fmt='o', color='black',
                    markersize=5.5, markeredgewidth=0, ecolor='#222222',
                    elinewidth=1.4, capsize=0, zorder=3)
    else:
        yr = np.array([o[0] for o in obs[i]])
        v = np.array([o[1] for o in obs[i]]) * SCALE
        ax.plot(yr, v, linestyle='none', marker='o', markersize=5.5,
                markeredgewidth=0, color='black', zorder=3)

    # y axis
    ax.yaxis.set_major_locator(FixedLocator(ytick_vals))
    ax.yaxis.set_major_formatter(FixedFormatter(ytick_labels))
    ax.yaxis.set_minor_locator(LogLocator(base=10, subs=np.arange(2, 10) * 1.0, numticks=30))
    ax.yaxis.set_minor_formatter(NullFormatter())
    ax.tick_params(axis='y', which='major', direction='out', length=27, width=1.8,
                   left=True, right=True, labelleft=True, labelright=False,
                   labelsize=FS, pad=27)
    ax.tick_params(axis='y', which='minor', direction='out', length=15, width=1.5,
                   left=True, right=True)

    # x axis
    ax.xaxis.set_major_locator(FixedLocator(xtick_years))
    ax.xaxis.set_minor_locator(MultipleLocator(2))
    ax.tick_params(axis='x', which='major', direction='out', length=27, width=1.8,
                   top=(i == 0), bottom=(i == 4), labeltop=False,
                   labelbottom=(i == 4), labelsize=FS, pad=25)
    ax.tick_params(axis='x', which='minor', direction='out', length=14, width=1.5,
                   top=(i == 0), bottom=(i == 4))

    for s in ax.spines.values():
        s.set_linewidth(2.0)

    ax.text(0.021, 0.776, letters[i], transform=ax.transAxes, fontsize=TFS,
            ha='left', va='baseline')
    ax.text(0.9953, 0.776, titles[i], transform=ax.transAxes, fontsize=TFS,
            ha='right', va='baseline')
    if i == 0:
        ax.text(0.14, 0.776, 'FR-WACCM6', transform=ax.transAxes, fontsize=TFS,
                ha='left', va='baseline', color='#ff0000')

    fig.text(42 / W_PX, y0 + h / 2, 'SAOD', rotation=90, ha='center',
             va='center', fontsize=40)

fig.savefig('out.png', dpi=100)
